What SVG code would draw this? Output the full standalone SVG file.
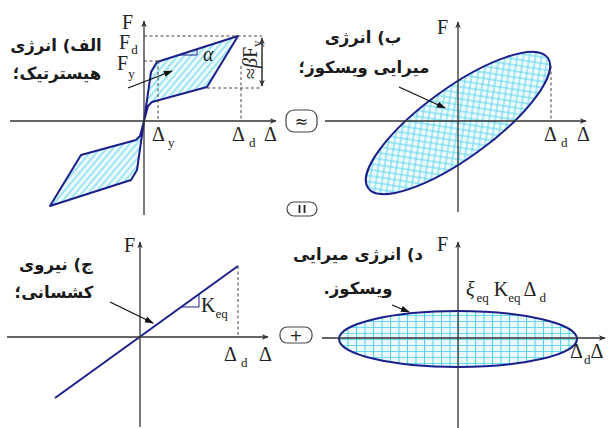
<svg xmlns="http://www.w3.org/2000/svg" width="612" height="428" viewBox="0 0 612 428">
<style>
.ax{stroke:#333;stroke-width:1.3;fill:none}
.cv{stroke:#1c1f8a;stroke-width:2;stroke-linejoin:round}
.dsh{stroke:#444;stroke-width:1;stroke-dasharray:3,2.5;fill:none}
.ar{stroke:#111;stroke-width:1.3;fill:none}
.fa{font-family:"DejaVu Sans",sans-serif;font-weight:bold;font-size:16.5px;fill:#1a1a1a;text-anchor:middle;direction:rtl}
.m{font-family:"Liberation Serif","Times New Roman",serif;font-size:20px;fill:#222}
.s{font-size:13px}
.box{fill:#fff;stroke:#444;stroke-width:1.2}
</style>
<defs>
<marker id="ah" viewBox="0 0 10 10" refX="9" refY="5" markerWidth="7" markerHeight="7" orient="auto-start-reverse" markerUnits="userSpaceOnUse"><path d="M0,1 L10,5 L0,9 L3,5 Z" fill="#333"/></marker>
<marker id="ap" viewBox="0 0 10 10" refX="9" refY="5" markerWidth="9" markerHeight="9" orient="auto" markerUnits="userSpaceOnUse"><path d="M0,1.5 L10,5 L0,8.5 Z" fill="#111"/></marker>
<pattern id="hatch" patternUnits="userSpaceOnUse" width="5" height="5" patternTransform="rotate(40)"><rect width="5" height="5" fill="#eefbfd"/><line x1="2" y1="0" x2="2" y2="5" stroke="#4fd0ec" stroke-width="1"/></pattern>
<pattern id="cross" patternUnits="userSpaceOnUse" width="6" height="6" patternTransform="rotate(45)"><rect width="6" height="6" fill="#eefbfd"/><line x1="3" y1="0" x2="3" y2="6" stroke="#4fd0ec" stroke-width="0.9"/><line x1="0" y1="3" x2="6" y2="3" stroke="#4fd0ec" stroke-width="0.9"/></pattern>
<pattern id="grid" patternUnits="userSpaceOnUse" width="8.5" height="6" x="458" y="339"><rect width="8.5" height="6" fill="#eefbfd"/><line x1="0.5" y1="0" x2="0.5" y2="6" stroke="#4fd0ec" stroke-width="1"/><line x1="0" y1="0.5" x2="8.5" y2="0.5" stroke="#4fd0ec" stroke-width="0.8"/></pattern>
</defs>

<g id="panel-a">
<path class="cv" fill="url(#hatch)" d="M144,121 L151,72 L157,62 L238,36 L207,87 L152,102 L148,106 Z"/>
<path class="cv" fill="url(#hatch)" d="M144,121 L137,170 L131,180 L50,206 L81,155 L136,140 L140,136 Z"/>
<line class="dsh" x1="144" y1="36" x2="262" y2="36"/>
<line class="dsh" x1="207" y1="88" x2="262" y2="88"/>
<line class="dsh" x1="144" y1="61" x2="158" y2="61"/>
<line class="dsh" x1="158" y1="61" x2="158" y2="121"/>
<line class="dsh" x1="241" y1="66" x2="241" y2="121"/>
<line class="ar" x1="262" y1="38" x2="262" y2="86" marker-start="url(#ah)" marker-end="url(#ah)"/>
<path d="M180,55 L197,55 L197,49" stroke="#1c1f8a" stroke-width="1" fill="none"/>
<text class="m" x="203" y="61" font-style="italic" font-size="18">α</text>
<line class="ax" x1="10" y1="121" x2="276" y2="121" marker-end="url(#ah)"/>
<line class="ax" x1="144" y1="215" x2="144" y2="21" marker-end="url(#ah)"/>
<line class="ar" x1="128" y1="88" x2="172" y2="71" marker-end="url(#ap)"/>
<text class="m" x="122" y="29" font-size="18">F</text>
<text class="m" x="119" y="49" font-size="19">F<tspan class="s" dx="1" dy="5">d</tspan></text>
<text class="m" x="117" y="70" font-size="19">F<tspan class="s" dy="8">y</tspan></text>
<text class="m" transform="translate(257,79) rotate(-90)">≈<tspan font-style="italic">β</tspan>F<tspan class="s" dy="4">y</tspan></text>
<text class="m" x="152" y="141">Δ<tspan class="s" dx="3" dy="6">y</tspan></text>
<text class="m" x="232" y="141">Δ<tspan class="s" dx="4" dy="6">d</tspan></text>
<text class="m" x="264" y="141">Δ</text>
<text class="fa" x="56" y="51">الف) انرژی</text>
<text class="fa" x="57" y="79">هیسترتیک؛</text>
</g>

<g id="panel-b">
<ellipse cx="458" cy="123" rx="111" ry="35" transform="rotate(-36 458 123)" class="cv" fill="url(#cross)"/>
<line class="dsh" x1="551" y1="66" x2="551" y2="121"/>
<line class="ax" x1="325" y1="121" x2="586" y2="121" marker-end="url(#ah)"/>
<line class="ax" x1="458" y1="212" x2="458" y2="22" marker-end="url(#ah)"/>
<line class="ar" x1="399" y1="87" x2="445" y2="108" marker-end="url(#ap)"/>
<text class="m" x="437" y="34">F</text>
<text class="m" x="544" y="141">Δ<tspan class="s" dx="4" dy="6">d</tspan></text>
<text class="m" x="577" y="141">Δ</text>
<text class="fa" x="363" y="43">ب) انرژی</text>
<text class="fa" x="364" y="73">میرایی ویسکوز؛</text>
</g>

<g id="panel-c">
<line class="dsh" x1="238" y1="266" x2="238" y2="337"/>
<line x1="55" y1="398" x2="238" y2="266" stroke="#1c1f8a" stroke-width="2"/>
<path d="M182,307 L199,307 L199,295" stroke="#1c1f8a" stroke-width="1" fill="none"/>
<line class="ax" x1="7" y1="337" x2="268" y2="337" marker-end="url(#ah)"/>
<line class="ax" x1="140" y1="427" x2="140" y2="242" marker-end="url(#ah)"/>
<line class="ar" x1="110" y1="302" x2="153" y2="323" marker-end="url(#ap)"/>
<text class="m" x="201" y="312">K<tspan class="s" dy="6">eq</tspan></text>
<text class="m" x="124" y="252">F</text>
<text class="m" x="224" y="361">Δ<tspan class="s" dx="4" dy="6">d</tspan></text>
<text class="m" x="259" y="361">Δ</text>
<text class="fa" x="56" y="270">ج) نیروی</text>
<text class="fa" x="54" y="298">کشسانی؛</text>
</g>

<g id="panel-d">
<ellipse cx="458" cy="339" rx="119" ry="28" class="cv" fill="url(#grid)"/>
<line class="ax" x1="322" y1="338" x2="605" y2="338" marker-end="url(#ah)"/>
<line class="ax" x1="458" y1="428" x2="458" y2="242" marker-end="url(#ah)"/>
<line class="ar" x1="392" y1="305" x2="409" y2="312" marker-end="url(#ap)"/>
<text class="m" x="437" y="251">F</text>
<text class="m" x="466" y="296"><tspan font-style="italic">ξ</tspan><tspan class="s" dx="2" dy="6">eq</tspan><tspan dx="5" dy="-6">K</tspan><tspan class="s" dy="6">eq</tspan><tspan dx="3" dy="-6">Δ</tspan><tspan class="s" dx="3" dy="6">d</tspan></text>
<text class="m" x="570" y="358">Δ<tspan class="s" dx="1" dy="6">d</tspan><tspan dy="-6">Δ</tspan></text>
<text class="fa" x="358" y="260">د) انرژی میرایی</text>
<text class="fa" x="358" y="294">ویسکوز.</text>
</g>

<g id="operators">
<rect class="box" x="286" y="110" width="31" height="22" rx="8"/>
<text x="301.5" y="127" font-family="DejaVu Sans,sans-serif" font-size="16" text-anchor="middle" fill="#222">≈</text>
<rect class="box" x="287" y="202" width="30" height="14" rx="7"/>
<line x1="299.5" y1="205" x2="299.5" y2="213" stroke="#222" stroke-width="1.8"/>
<line x1="304.5" y1="205" x2="304.5" y2="213" stroke="#222" stroke-width="1.8"/>
<rect class="box" x="280" y="327" width="32" height="16" rx="7"/>
<text x="296" y="340.5" font-family="DejaVu Sans,sans-serif" font-size="16" text-anchor="middle" fill="#222">+</text>
</g>
</svg>
